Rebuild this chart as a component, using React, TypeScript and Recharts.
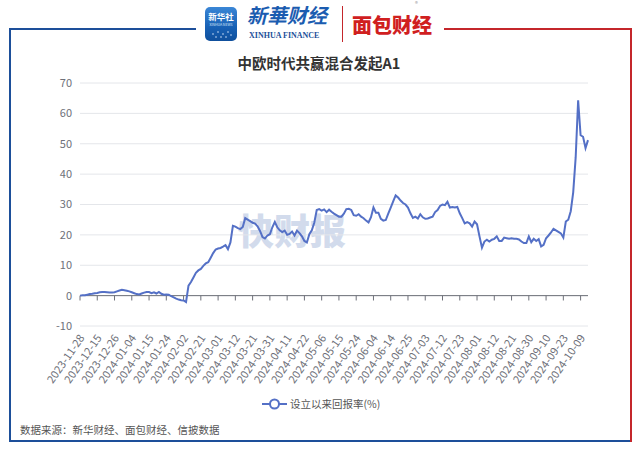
import React from "react";
import { LineChart, Line, XAxis, YAxis, CartesianGrid, ReferenceLine } from "recharts";

// ── Data ──────────────────────────────────────────────────────────────────────

const dates = [
  "2023-11-28", "2023-12-01", "2023-12-08", "2023-12-11", "2023-12-12", "2023-12-13", "2023-12-14",
  "2023-12-15", "2023-12-18", "2023-12-19", "2023-12-20", "2023-12-21", "2023-12-22", "2023-12-25",
  "2023-12-26", "2023-12-27", "2023-12-28", "2023-12-29", "2023-12-31", "2024-01-02", "2024-01-03",
  "2024-01-04", "2024-01-05", "2024-01-08", "2024-01-09", "2024-01-10", "2024-01-11", "2024-01-12",
  "2024-01-15", "2024-01-16", "2024-01-17", "2024-01-18", "2024-01-19", "2024-01-22", "2024-01-23",
  "2024-01-24", "2024-01-25", "2024-01-26", "2024-01-29", "2024-01-30", "2024-01-31", "2024-02-01",
  "2024-02-02", "2024-02-05", "2024-02-06", "2024-02-07", "2024-02-08", "2024-02-19", "2024-02-20",
  "2024-02-21", "2024-02-22", "2024-02-23", "2024-02-26", "2024-02-27", "2024-02-28", "2024-02-29",
  "2024-03-01", "2024-03-04", "2024-03-05", "2024-03-06", "2024-03-07", "2024-03-08", "2024-03-11",
  "2024-03-12", "2024-03-13", "2024-03-14", "2024-03-15", "2024-03-18", "2024-03-19", "2024-03-20",
  "2024-03-21", "2024-03-22", "2024-03-25", "2024-03-26", "2024-03-27", "2024-03-28", "2024-03-29",
  "2024-03-31", "2024-04-01", "2024-04-02", "2024-04-03", "2024-04-08", "2024-04-09", "2024-04-10",
  "2024-04-11", "2024-04-12", "2024-04-15", "2024-04-16", "2024-04-17", "2024-04-18", "2024-04-19",
  "2024-04-22", "2024-04-23", "2024-04-24", "2024-04-25", "2024-04-26", "2024-04-29", "2024-04-30",
  "2024-05-06", "2024-05-07", "2024-05-08", "2024-05-09", "2024-05-10", "2024-05-13", "2024-05-14",
  "2024-05-15", "2024-05-16", "2024-05-17", "2024-05-20", "2024-05-21", "2024-05-22", "2024-05-23",
  "2024-05-24", "2024-05-27", "2024-05-28", "2024-05-29", "2024-05-30", "2024-05-31", "2024-06-03",
  "2024-06-04", "2024-06-05", "2024-06-06", "2024-06-07", "2024-06-11", "2024-06-12", "2024-06-13",
  "2024-06-14", "2024-06-17", "2024-06-18", "2024-06-19", "2024-06-20", "2024-06-21", "2024-06-24",
  "2024-06-25", "2024-06-26", "2024-06-27", "2024-06-28", "2024-06-30", "2024-07-01", "2024-07-02",
  "2024-07-03", "2024-07-04", "2024-07-05", "2024-07-08", "2024-07-09", "2024-07-10", "2024-07-11",
  "2024-07-12", "2024-07-15", "2024-07-16", "2024-07-17", "2024-07-18", "2024-07-19", "2024-07-22",
  "2024-07-23", "2024-07-24", "2024-07-25", "2024-07-26", "2024-07-29", "2024-07-30", "2024-07-31",
  "2024-08-01", "2024-08-02", "2024-08-05", "2024-08-06", "2024-08-07", "2024-08-08", "2024-08-09",
  "2024-08-12", "2024-08-13", "2024-08-14", "2024-08-15", "2024-08-16", "2024-08-19", "2024-08-20",
  "2024-08-21", "2024-08-22", "2024-08-23", "2024-08-26", "2024-08-27", "2024-08-28", "2024-08-29",
  "2024-08-30", "2024-09-02", "2024-09-03", "2024-09-04", "2024-09-05", "2024-09-06", "2024-09-09",
  "2024-09-10", "2024-09-11", "2024-09-12", "2024-09-13", "2024-09-18", "2024-09-19", "2024-09-20",
  "2024-09-23", "2024-09-24", "2024-09-25", "2024-09-26", "2024-09-27", "2024-09-30", "2024-10-08",
  "2024-10-09", "2024-10-10", "2024-10-11", "2024-10-14",
];

// 设立以来回报率(%)
const returns = [
  0, 0.1, 0.1, 0.3, 0.5, 0.6, 0.8,
  0.9, 1.1, 1.2, 1.2, 1.1, 1.0, 1.0,
  1.1, 1.4, 1.7, 1.9, 1.8, 1.6, 1.4,
  1.1, 0.8, 0.5, 0.4, 0.7, 1.0, 1.2,
  1.2, 0.8, 1.1, 0.7, 1.2, 0.6, 0.3,
  0.4, 0.3, -0.2, -0.6, -1.0, -1.3, -1.5,
  -1.6, -2.1, 3.3, 4.5, 6.0, 7.5, 8.3,
  8.8, 9.8, 10.6, 11.0, 12.5, 14.0, 15.2,
  15.5, 15.7, 16.1, 16.6, 15.3, 17.5, 23.0,
  22.7, 22.2, 21.9, 22.6, 25.5, 25.0, 24.5,
  24.0, 23.7, 22.8, 21.3, 19.3, 18.8, 19.8,
  20.2, 22.5, 24.3, 22.5, 21.5, 20.9, 21.4,
  20.0, 20.3, 21.1, 19.8, 21.4, 20.6, 19.5,
  18.0, 17.5, 20.2, 21.5, 24.0, 28.2, 28.5,
  28.0, 28.4, 27.5, 28.3, 27.6, 27.0, 26.5,
  26.0, 26.0, 27.0, 28.5, 28.6, 28.2, 26.5,
  26.3, 26.8, 26.0, 25.5, 24.7, 24.1, 25.8,
  29.0, 27.3, 27.3, 25.3, 24.7, 24.9, 27.0,
  29.0, 31.0, 33.0, 32.3, 31.3, 30.5, 30.0,
  29.0, 27.1, 25.6, 26.0, 25.4, 26.8, 25.8,
  25.3, 25.4, 25.7, 26.0, 27.5, 28.2, 29.5,
  30.0, 29.8, 30.9, 29.0, 29.2, 29.0, 29.2,
  27.1, 25.5, 23.8, 24.2, 23.8, 22.7, 24.4,
  23.5, 19.5, 15.8, 17.8, 18.4, 17.8, 18.4,
  18.7, 19.5, 18.0, 18.0, 19.1, 18.9, 18.7,
  18.9, 18.7, 18.7, 18.5, 17.8, 17.3, 17.3,
  19.5, 17.6, 18.7, 18.0, 18.6, 16.2, 16.7,
  18.9, 19.8, 20.8, 22.0, 21.5, 21.0, 20.5,
  19.1, 24.4, 25.0, 27.8, 34.0, 45.5, 64.3,
  52.8, 52.3, 48.6, 51.2,
];

const yTicks = [-10, 0, 10, 20, 30, 40, 50, 60, 70];

const seriesName = "设立以来回报率(%)";
const title = "中欧时代共赢混合发起A1";
const source = "数据来源：新华财经、面包财经、信披数据";

const data = dates.map((date, i) => ({ date, value: returns[i] }));
const labelDates = dates.filter((_, i) => i % 7 === 0);

// ── Styles ────────────────────────────────────────────────────────────────────

const FONT = '"Noto Sans CJK SC", "Noto Sans", sans-serif';
const BLUE = "#1d4f9a";
const RED = "#c4262b";
const LINE = "#5470c6";

function XTick({ x, y, payload }: { x?: number; y?: number; payload?: { value: string } }) {
  return (
    <text
      x={0}
      y={0}
      textAnchor="end"
      dominantBaseline="central"
      fontSize={11}
      fill="#6e7079"
      fontFamily={FONT}
      transform={`translate(${(x ?? 0) + 1},${(y ?? 0) + 9}) rotate(-55)`}
    >
      {payload?.value}
    </text>
  );
}

function XinhuaIcon() {
  const dots = [
    [8, 27], [13, 25], [18, 27], [23, 25], [11, 30], [16, 30], [21, 30], [26, 28],
  ];
  return (
    <svg width={32} height={34} style={{ position: "absolute", left: 205, top: 7 }}>
      <defs>
        <linearGradient id="xh" x1="0" y1="0" x2="0" y2="1">
          <stop offset="0%" stopColor="#3a86d6" />
          <stop offset="60%" stopColor="#1760b4" />
          <stop offset="100%" stopColor="#0f4f9c" />
        </linearGradient>
      </defs>
      <rect x={0} y={0} width={32} height={34} rx={5} fill="url(#xh)" />
      <text x={16} y={13} textAnchor="middle" fontSize={8.5} fontWeight={700} fill="#fff" fontFamily={FONT}>
        新华社
      </text>
      <text x={16} y={19} textAnchor="middle" fontSize={3.5} fill="#dbe8f7" fontFamily={FONT}>
        XINHUA NEWS
      </text>
      {dots.map(([cx, cy], i) => (
        <circle key={i} cx={cx} cy={cy} r={0.8} fill="#cfe2f7" />
      ))}
    </svg>
  );
}

function Header() {
  return (
    <>
      {/* frame */}
      <div style={{ position: "absolute", left: 9, top: 28, width: 187, height: 2, background: BLUE }} />
      <div style={{ position: "absolute", left: 444, top: 28, width: 188, height: 2, background: RED }} />
      <div style={{ position: "absolute", left: 9, top: 28, width: 2, height: 414, background: BLUE }} />
      <div style={{ position: "absolute", left: 630, top: 28, width: 2, height: 414, background: RED }} />
      <div style={{ position: "absolute", left: 9, top: 440, width: 621, height: 2, background: BLUE }} />

      <XinhuaIcon />
      <div
        style={{
          position: "absolute", left: 247, top: 2, fontSize: 20, lineHeight: "26px", fontStyle: "italic",
          fontWeight: 700, color: "#1b5cb0", fontFamily: FONT, whiteSpace: "nowrap",
        }}
      >
        新華财经
      </div>
      <div
        style={{
          position: "absolute", left: 249, top: 31, fontSize: 8, lineHeight: "10px", fontWeight: 700,
          color: "#1b4f99", fontFamily: '"Liberation Serif", serif', whiteSpace: "nowrap",
        }}
      >
        XINHUA FINANCE
      </div>
      <div style={{ position: "absolute", left: 342, top: 6, width: 1, height: 36, background: RED }} />
      <div
        style={{
          position: "absolute", left: 352, top: 14, fontSize: 20, lineHeight: "22px", fontWeight: 900,
          color: "#d0201f", fontFamily: FONT, whiteSpace: "nowrap",
        }}
      >
        面包财经
      </div>
      <div
        style={{
          position: "absolute", left: 415, top: 0, fontSize: 6, lineHeight: "7px", color: "#999", fontFamily: FONT,
        }}
      >
        ®
      </div>

      {/* title */}
      <div
        style={{
          position: "absolute", left: 0, top: 53, width: 638, textAlign: "center", fontSize: 14.5,
          lineHeight: "20px", fontWeight: 700, color: "#333", fontFamily: FONT,
        }}
      >
        {title}
      </div>
    </>
  );
}

export default function App() {
  return (
    <div
      style={{
        position: "absolute", left: 0, top: 0, width: 640, height: 453, background: "#fff",
        overflow: "hidden", fontFamily: FONT,
      }}
    >
      <Header />

      {/* watermark */}
      <div
        style={{
          position: "absolute", left: 238, top: 204, fontSize: 36, lineHeight: "50px", fontWeight: 900,
          color: "#d2dbec", fontFamily: FONT, whiteSpace: "nowrap",
        }}
      >
        快财报
      </div>

      <div style={{ position: "absolute", left: 0, top: 0 }}>
        <LineChart width={640} height={453} data={data} margin={{ top: 83, right: 52, bottom: 67, left: 0 }}>
          <CartesianGrid vertical={false} stroke="#e4e6ea" />
          <YAxis
            type="number"
            domain={[-10, 70]}
            ticks={yTicks}
            width={80}
            axisLine={false}
            tickLine={false}
            tick={{ fill: "#6e7079", fontSize: 11, fontFamily: FONT }}
          />
          <XAxis
            dataKey="date"
            interval={6}
            height={60}
            axisLine={false}
            tickLine={false}
            tickSize={0}
            tickMargin={0}
            tick={<XTick />}
          />
          <ReferenceLine y={0} stroke="#6e7079" strokeWidth={1} />
          {labelDates.map((d) => (
            <ReferenceLine
              key={d}
              segment={[{ x: d, y: 0 }, { x: d, y: -1.6 }]}
              stroke="#6e7079"
              strokeWidth={1}
            />
          ))}
          <Line
            type="linear"
            dataKey="value"
            name={seriesName}
            stroke={LINE}
            strokeWidth={2}
            dot={false}
            isAnimationActive={false}
          />
        </LineChart>
      </div>

      {/* legend */}
      <div style={{ position: "absolute", left: 262, top: 397, display: "flex", alignItems: "center" }}>
        <svg width={25} height={14}>
          <line x1={0} y1={7} x2={25} y2={7} stroke={LINE} strokeWidth={2} />
          <circle cx={12.5} cy={7} r={4.5} fill="#fff" stroke={LINE} strokeWidth={2} />
        </svg>
        <span style={{ marginLeft: 3, fontSize: 10.5, color: "#555", lineHeight: "14px" }}>{seriesName}</span>
      </div>

      {/* source */}
      <div style={{ position: "absolute", left: 20, top: 422, fontSize: 10.5, color: "#555", lineHeight: "16px" }}>
        {source}
      </div>
    </div>
  );
}
